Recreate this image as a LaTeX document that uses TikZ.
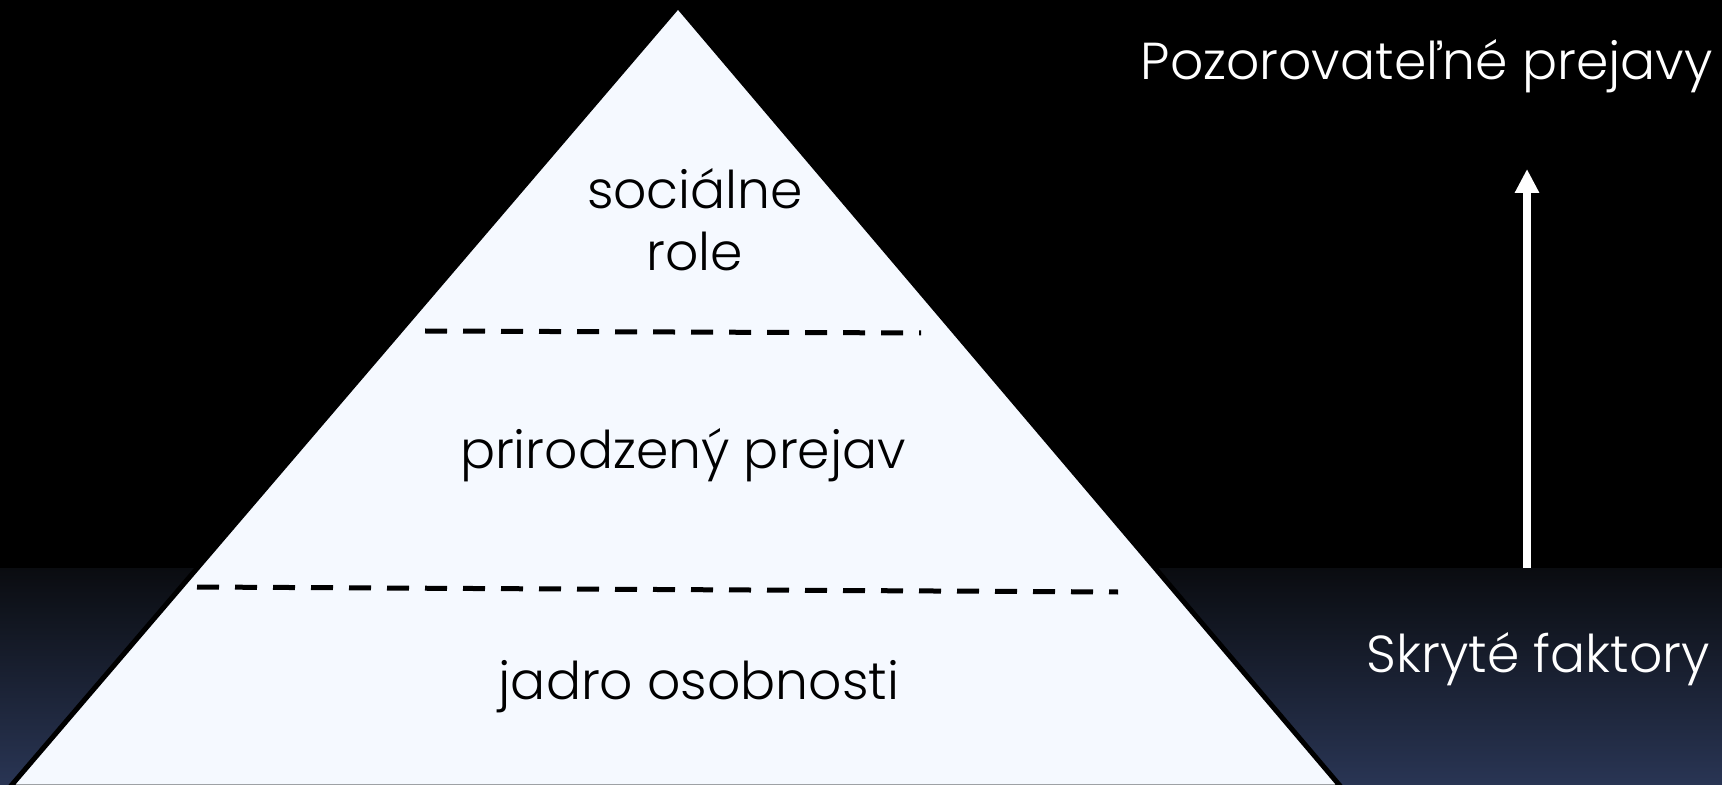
\documentclass[tikz,border=0pt]{standalone}
\usepackage{fontspec}
\setmainfont{Poppins}[UprightFont=* Light]
\usetikzlibrary{arrows.meta}

\definecolor{pyrfill}{RGB}{245,249,255}
\definecolor{navytop}{RGB}{10,12,16}
\definecolor{navybot}{RGB}{41,53,84}

\begin{document}
\begin{tikzpicture}[
    x=0.5pt, y=-0.5pt,
    layer/.style={font=\fontsize{26}{31}\selectfont, text=black, inner sep=0pt, anchor=base},
    side/.style={font=\fontsize{26}{31}\selectfont, text=white, inner sep=0pt, anchor=base east},
    split/.style={line width=2.5pt, dash pattern=on 11pt off 8pt},
    arrow/.style={-{Triangle[length=12pt, width=11.5pt]}, line width=4pt, white}
]

% background
\useasboundingbox (0,0) rectangle (1722,785);
\clip (0,0) rectangle (1722,785);
\fill[black] (0,0) rectangle (1722,785);
\shade[top color=navytop, bottom color=navybot] (0,568) rectangle (1722,785);

% pyramid
\coordinate (apex) at (678,6);
\coordinate (baseL) at (10,787);
\coordinate (baseR) at (1341,787);
\draw[line width=2.5pt, fill=pyrfill] (apex) -- (baseL) -- (baseR) -- cycle;

\draw[split] (425,331) -- (921,333);
\draw[split] (197,587) -- (1118,592);

\node[layer] (social) at (695,209) {sociálne};
\node[layer] (role) at (695,271) {role};
\node[layer] (natural) at (683,469) {prirodzený prejav};
\node[layer] (core) at (699,699) {jadro osobnosti};

% right side
\node[side] (visible) at (1713,80) {Pozorovateľné prejavy};
\node[side] (hidden) at (1710,672) {Skryté faktory};

\coordinate (arrowfoot) at (1527,568);
\coordinate (arrowtip) at (1527,169);
\draw[arrow] (arrowfoot) -- (arrowtip);

\end{tikzpicture}
\end{document}
